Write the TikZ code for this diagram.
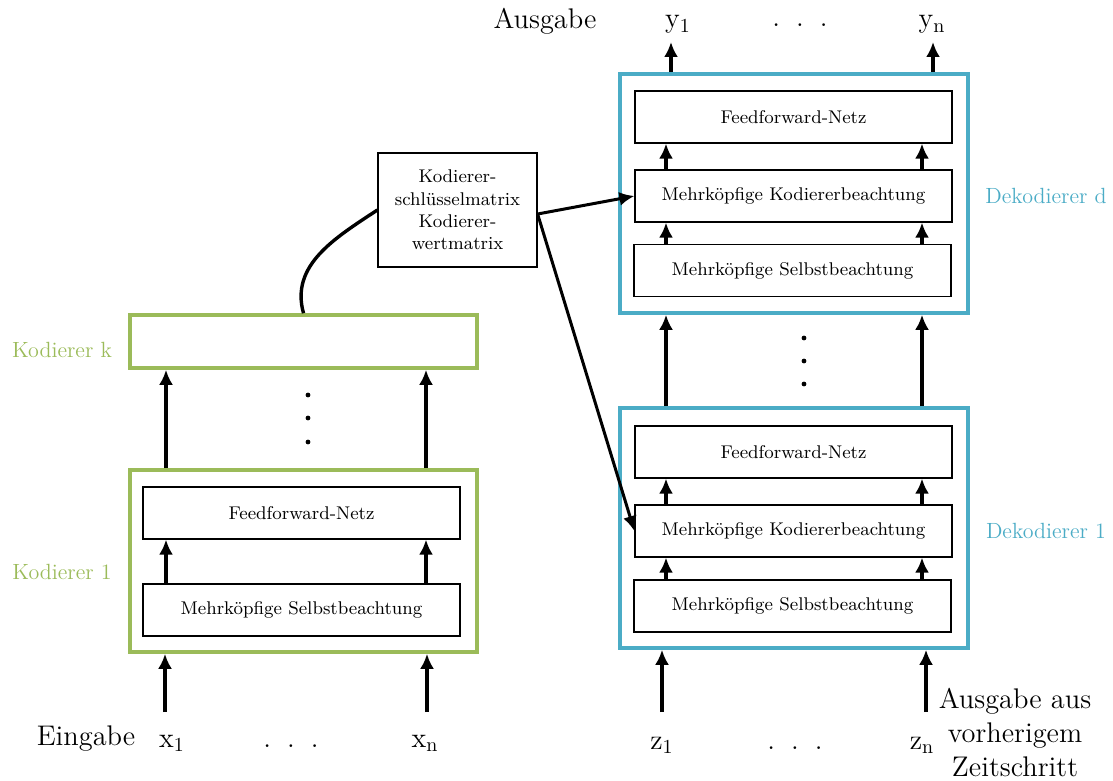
\documentclass[tikz,border=0pt]{standalone}
\usepackage{fontspec}
\usetikzlibrary{arrows.meta,calc}
\definecolor{kodgreen}{RGB}{155,187,89}
\definecolor{dekblue}{RGB}{75,172,198}
\newcommand\layerfont{\fontsize{9.2}{11.2}\selectfont}
\newcommand\iofont{\fontsize{14.2}{17}\selectfont}
\newcommand\stackfont{\fontsize{11}{13}\selectfont}
\begin{document}
\begin{tikzpicture}[x=0.5pt,y=-0.5pt,
  sublayer/.style={draw=black,line width=0.6pt,inner sep=0pt,
    minimum width=158.5pt,minimum height=26pt,font=\layerfont},
  encframe/.style={draw=kodgreen,line width=1.8pt,inner sep=0pt,minimum width=173.5pt},
  decframe/.style={draw=dekblue,line width=1.8pt,inner sep=0pt,minimum width=174pt},
  enclabel/.style={text=kodgreen,font=\stackfont},
  declabel/.style={text=dekblue,font=\stackfont},
  flow/.style={-{Latex[length=7.5pt,width=7pt]},line width=1.8pt},
  iolabel/.style={font=\iofont,inner sep=0pt,anchor=base}
]
\useasboundingbox (0,0) rectangle (1113,781);

% ---------- encoder stack ----------
\node[encframe,minimum height=91pt] (enc1) at (303.5,561) {};
\node[sublayer] (ffE) at (301.5,513) {Feedforward-Netz};
\node[sublayer] (saE) at (301.5,610) {Mehrköpfige Selbstbeachtung};
\node[encframe,minimum height=26.5pt] (encK) at (303.5,341.5) {};
\node[enclabel] (labE1) at (62,572) {Kodierer 1};
\node[enclabel] (labEK) at (62,350) {Kodierer k};

% ---------- key/value matrices ----------
\node[draw,line width=0.6pt,minimum width=79.5pt,minimum height=57pt,inner sep=0pt,
  align=center,font=\layerfont] (mat) at (457.5,210)
  {Kodierer-\\schlüsselmatrix\\Kodierer-\\wertmatrix};

% ---------- decoder stack ----------
\node[decframe,minimum height=119.5pt] (decD) at (794,193.5) {};
\node[sublayer] (ffD) at (793.5,117) {Feedforward-Netz};
\node[sublayer] (kaD) at (793.5,196) {Mehrköpfige Kodiererbeachtung};
\node[sublayer] (saD) at (792.5,270.5) {Mehrköpfige Selbstbeachtung};
\node[decframe,minimum height=120pt] (dec1) at (794,528) {};
\node[sublayer] (ffA) at (793.5,452) {Feedforward-Netz};
\node[sublayer] (kaA) at (793.5,531) {Mehrköpfige Kodiererbeachtung};
\node[sublayer] (saA) at (792.5,606) {Mehrköpfige Selbstbeachtung};
\node[declabel] (labDD) at (1046,196) {Dekodierer d};
\node[declabel] (labD1) at (1046,531) {Dekodierer 1};

% ---------- inputs and outputs ----------
\node[iolabel] (ein) at (86,745) {Eingabe};
\node[iolabel] (x1) at (172,747) {x\textsubscript{1}};
\node[iolabel] (xdots) at (291,747) {.\hspace{8pt}.\hspace{8pt}.};
\node[iolabel] (xn) at (425,747) {x\textsubscript{n}};
\node[iolabel] (z1) at (662,749) {z\textsubscript{1}};
\node[iolabel] (zdots) at (795,749) {.\hspace{8pt}.\hspace{8pt}.};
\node[iolabel] (zn) at (922,749) {z\textsubscript{n}};
\node[font=\iofont,align=center,inner sep=0pt] (prev) at (1015,732)
  {Ausgabe aus\\vorherigem\\Zeitschritt};
\node[iolabel] (aus) at (545,29) {Ausgabe};
\node[iolabel] (y1) at (678,28) {y\textsubscript{1}};
\node[iolabel] (ydots) at (800,27) {.\hspace{8pt}.\hspace{8pt}.};
\node[iolabel] (yn) at (932,28) {y\textsubscript{n}};

% column positions of the vertical flows
\coordinate (cEl) at (166,0);
\coordinate (cEr) at (426,0);
\coordinate (cDl) at (666,0);
\coordinate (cDr) at (922,0);
\coordinate (inX1) at (165,712);
\coordinate (inXn) at (427,712);
\coordinate (inZ1) at (662,712);
\coordinate (inZn) at (926,712);
\coordinate (outY1) at (671,42);
\coordinate (outYn) at (933,42);

% encoder flows
\draw[flow] (inX1) -- (inX1 |- enc1.south);
\draw[flow] (inXn) -- (inXn |- enc1.south);
\draw[flow] (saE.north -| cEl) -- (ffE.south -| cEl);
\draw[flow] (saE.north -| cEr) -- (ffE.south -| cEr);
\draw[flow] (enc1.north -| cEl) -- (encK.south -| cEl);
\draw[flow] (enc1.north -| cEr) -- (encK.south -| cEr);

% decoder flows
\draw[flow] (inZ1) -- (inZ1 |- dec1.south);
\draw[flow] (inZn) -- (inZn |- dec1.south);
\draw[flow] (saA.north -| cDl) -- (kaA.south -| cDl);
\draw[flow] (saA.north -| cDr) -- (kaA.south -| cDr);
\draw[flow] (kaA.north -| cDl) -- (ffA.south -| cDl);
\draw[flow] (kaA.north -| cDr) -- (ffA.south -| cDr);
\draw[flow] (dec1.north -| cDl) -- (decD.south -| cDl);
\draw[flow] (dec1.north -| cDr) -- (decD.south -| cDr);
\draw[flow] (saD.north -| cDl) -- (kaD.south -| cDl);
\draw[flow] (saD.north -| cDr) -- (kaD.south -| cDr);
\draw[flow] (kaD.north -| cDl) -- (ffD.south -| cDl);
\draw[flow] (kaD.north -| cDr) -- (ffD.south -| cDr);
\draw[flow] (outY1 |- decD.north) -- (outY1);
\draw[flow] (outYn |- decD.north) -- (outYn);

% encoder output to the matrices, matrices to the decoders
\draw[line width=1.7pt] (encK.north) .. controls (290,265) and (335,238) .. (mat.west);
\draw[flow,line width=1.5pt] ([yshift=-2pt]mat.east) -- (kaD.west);
\draw[flow,line width=1.5pt] ([yshift=-2pt]mat.east) -- (kaA.west);

% vertical ellipses between stacked blocks
\foreach \yy in {395,418,442} \fill (308,\yy) circle[radius=1.2pt];
\foreach \yy in {338,361,384} \fill (804,\yy) circle[radius=1.2pt];
\end{tikzpicture}
\end{document}
